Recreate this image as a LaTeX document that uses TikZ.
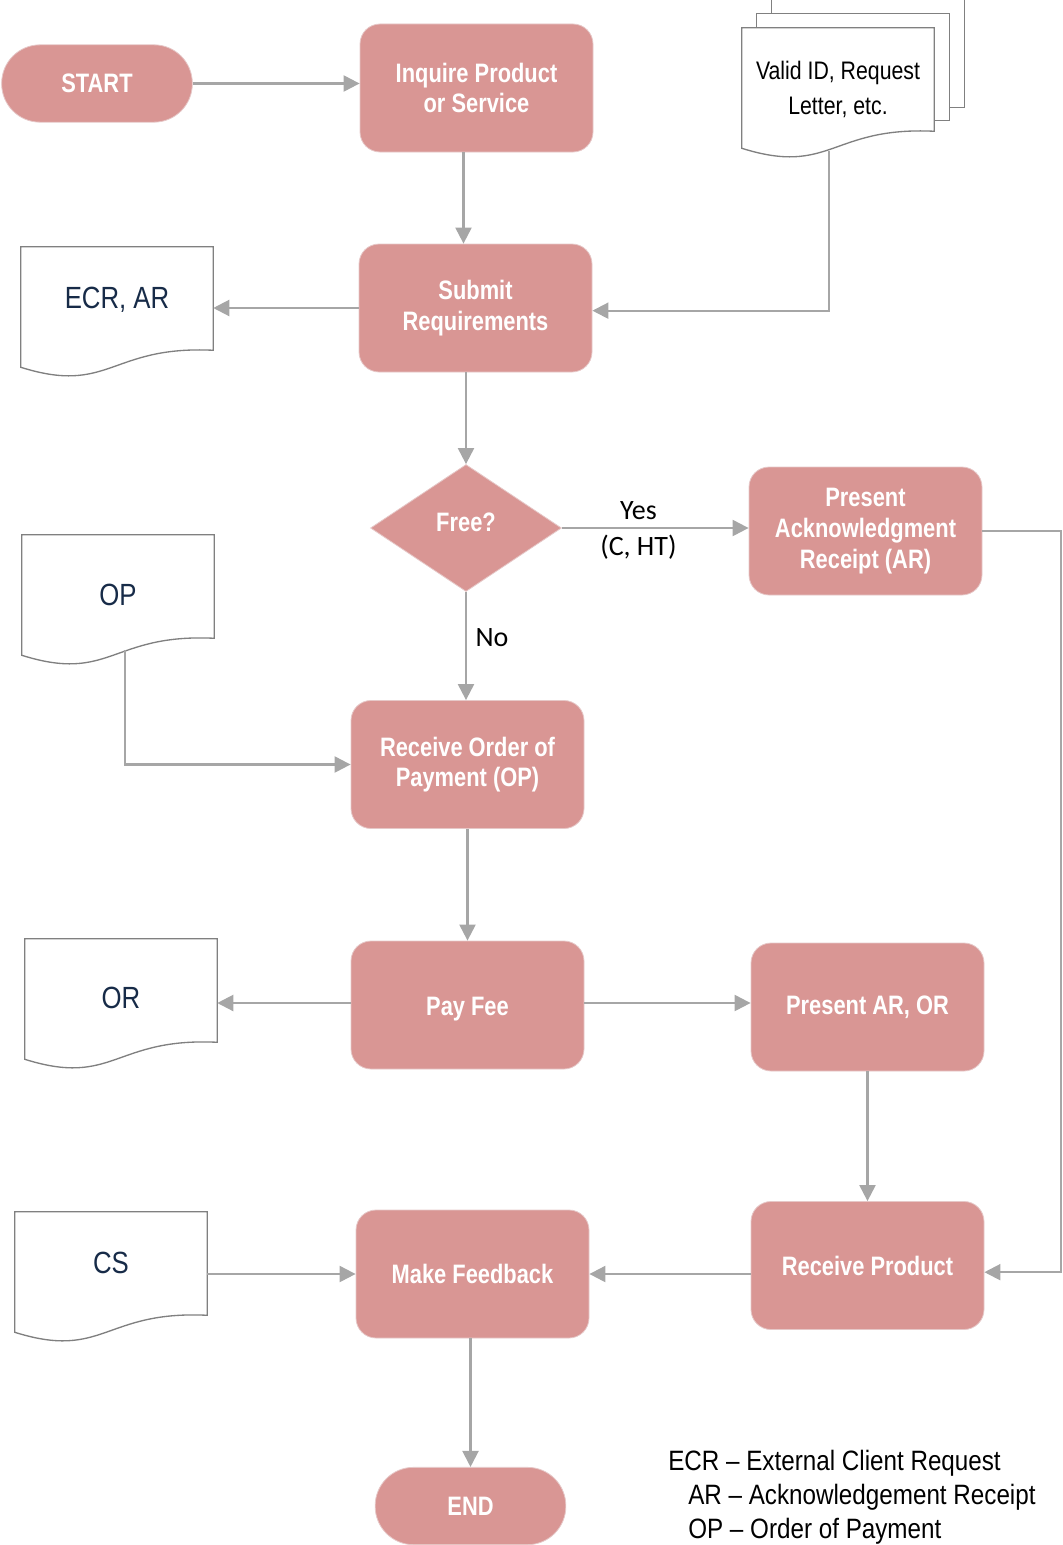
\documentclass[tikz,border=0pt]{standalone}
\usepackage{fontspec}
\setmainfont{Liberation Sans}
\newfontfamily\boxfont[FakeStretch=0.82]{Liberation Sans}
\newfontfamily\narrowfont[FakeStretch=0.84]{Liberation Sans}
\newfontfamily\legfont[FakeStretch=0.865]{Liberation Sans}
\newfontfamily\calfont{Carlito}
\usetikzlibrary{shapes.geometric,arrows.meta,calc}
\definecolor{boxfill}{RGB}{217,150,148}
\definecolor{boxedge}{RGB}{230,200,200}
\definecolor{linegray}{RGB}{166,166,166}
\definecolor{docgray}{RGB}{128,128,128}
\definecolor{navyblue}{RGB}{23,43,72}
\tikzset{
 proc/.style={rectangle, rounded corners=15pt, fill=boxfill, draw=boxedge, line width=0.6pt,
   minimum width=174.75pt, minimum height=96pt, inner sep=2pt, align=center, text=white,
   font=\boxfont\bfseries\fontsize{20}{23}\selectfont},
 term/.style={proc, rounded corners=28.8pt, minimum width=143pt, minimum height=58pt},
 decision/.style={diamond, aspect=1.5, fill=boxfill, draw=boxedge, line width=0.6pt,
   minimum width=143.25pt, minimum height=95.25pt, inner sep=0pt, text=white,
   font=\boxfont\bfseries\fontsize{20}{23}\selectfont},
 docnode/.style={rectangle, minimum width=144pt, minimum height=77.25pt, inner sep=0pt},
 doctext/.style={font=\narrowfont\fontsize{23}{27}\selectfont, text=navyblue, align=center, inner sep=0pt},
 vidtext/.style={font=\narrowfont\fontsize{19}{26}\selectfont, text=black, align=center, inner sep=0pt},
 docline/.style={draw=docgray, line width=1pt, fill=white},
 arr/.style={draw=linegray, line width=1.6pt, -{Triangle[length=12pt,width=12pt]}},
 lbl/.style={font=\calfont\fontsize{21}{25}\selectfont, inner sep=0pt},
 legend/.style={font=\legfont\fontsize{21}{25}\selectfont, anchor=base west, inner sep=0pt},
}
\newcommand\docwave[1]{\path[docline] (#1.north west) -- (#1.north east) -- (#1.south east)
  .. controls ([shift={(-103,-5)}]#1.south east) and ([shift={(89,45)}]#1.south west)
  .. ([shift={(0,17)}]#1.south west) -- cycle;}
\begin{document}
\begin{tikzpicture}[x=0.75pt,y=-0.75pt]
\useasboundingbox (0,0) rectangle (1063,1545);
% process nodes
\node[term] (start) at (97,83.5) {START};
\node[proc] (inq) at (476.5,88) {Inquire Product\\or Service};
\node[proc] (sub) at (475.5,308) {Submit\\Requirements};
\node[decision, text depth=9pt] (free) at (466,528) {Free?};
\node[proc] (par) at (865.5,531) {Present\\Acknowledgment\\Receipt (AR)};
\node[proc] (recv) at (467.5,764.5) {Receive Order of\\Payment (OP)};
\node[proc] (pay) at (467.5,1005) {\raisebox{-3pt}[\height][\depth]{Pay Fee}};
\node[proc] (paro) at (867.5,1007) {Present AR, OR};
\node[proc] (recvp) at (867.5,1265.5) {Receive Product};
\node[proc] (feed) at (472.5,1274) {Make Feedback};
\node[term] (end) at (470.5,1506) {END};
% documents
\node[docnode] (vid) at (838,79.5) {};
\draw[docline] ([shift={(30,-28)}]vid.north west) rectangle ([shift={(30,-24)}]vid.south east);
\draw[docline] ([shift={(15,-14)}]vid.north west) rectangle ([shift={(15,-11)}]vid.south east);
\docwave{vid}
\node[vidtext] (vidT) at ([shift={(0,10)}]vid.center) {Valid ID, Request\\Letter, etc.};
\node[docnode] (ecr) at (117,298.5) {};
\docwave{ecr}
\node[doctext] (ecrT) at ([shift={(0,1.5)}]ecr.center) {ECR, AR};
\node[docnode] (op) at (118,586.5) {};
\docwave{op}
\node[doctext] (opT) at ([shift={(0,8.5)}]op.center) {OP};
\node[docnode] (or) at (121,990.5) {};
\docwave{or}
\node[doctext] (orT) at ([shift={(0,7.5)}]or.center) {OR};
\node[docnode] (cs) at (111,1263.5) {};
\docwave{cs}
\node[doctext] (csT) at ([shift={(0,-0.5)}]cs.center) {CS};
% connectors
\draw[arr] (start.east) -- (start.east -| inq.west);
\draw[arr] ([xshift=-9.75pt]inq.south) -- ([xshift=-9.75pt]inq.south |- sub.north);
\coordinate (vidout) at ([shift={(87,20)}]vid.south west);
\draw[arr] (vidout) |- ([yshift=-2pt]sub.east);
\draw[arr] (sub.west) -- (sub.west -| ecr.east);
\draw[arr] (free.north |- sub.south) -- (free.north);
\draw[arr] (free.east) -- node[lbl, pos=0.41, yshift=12.75pt] (yes) {Yes}
   node[lbl, pos=0.41, yshift=-14.25pt] (cht) {(C, HT)} (free.east -| par.west);
\draw[arr] (free.south) -- node[lbl, pos=0.42, xshift=19.5pt] (no) {No} (free.south |- recv.north);
\coordinate (opout) at ([shift={(103,12)}]op.south west);
\draw[arr] (opout) |- (recv.west);
\draw[arr] (recv.south) -- (pay.north);
\draw[arr] ([yshift=1.5pt]pay.west) -- ([yshift=1.5pt]pay.west -| or.east);
\draw[arr] ([yshift=1.5pt]pay.east) -- ([yshift=1.5pt]pay.east -| paro.west);
\draw[arr] (paro.south) -- (recvp.north);
\coordinate (rt) at (1061,532);
\draw[arr] (par.east) -- (par.east -| rt) |- ([yshift=-5pt]recvp.east);
\draw[arr] (feed.east -| recvp.west) -- (feed.east);
\draw[arr] (feed.west -| cs.east) -- (feed.west);
\draw[arr] (end.north |- feed.south) -- (end.north);
% legend
\node[legend] (leg1) at (668,1470) {ECR – External Client Request};
\node[legend] (leg2) at (688,1504) {AR – Acknowledgement Receipt};
\node[legend] (leg3) at (688,1538) {OP – Order of Payment};
\end{tikzpicture}
\end{document}
